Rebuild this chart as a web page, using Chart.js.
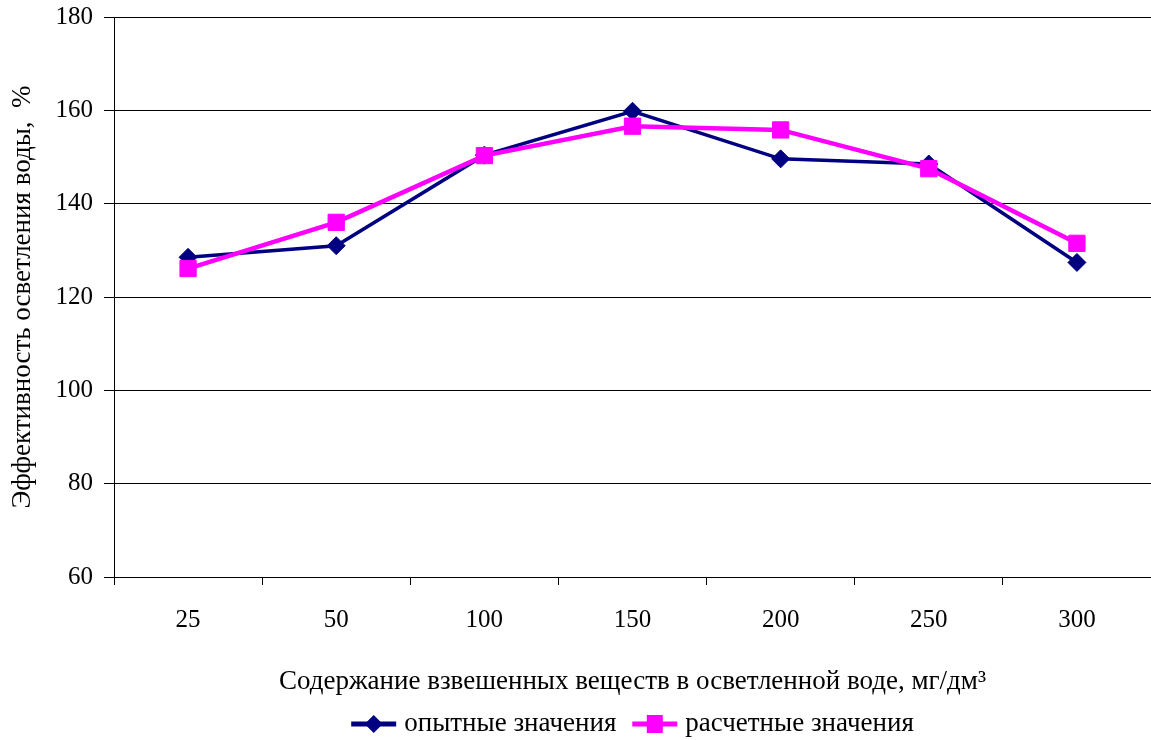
<!DOCTYPE html>
<html>
<head>
<meta charset="utf-8">
<script src="https://cdn.jsdelivr.net/npm/chart.js@4"></script>
<style>
  html, body { margin: 0; padding: 0; background: #fff; }
  #wrap { width: 1151px; height: 740px; }
</style>
</head>
<body>
<div id="wrap"><canvas id="chart" width="1151" height="740"></canvas></div>
<script>
const categories = ["25", "50", "100", "150", "200", "250", "300"];
const measured = [128.5, 131.0, 150.4, 159.8, 149.6, 148.5, 127.4];
const calculated = [126.1, 136.0, 150.3, 156.6, 155.8, 147.5, 131.5];
const yTicks = [60, 80, 100, 120, 140, 160, 180];

const FONT = "'Liberation Serif', 'Times New Roman', serif";
const NAVY = "#000080";
const MAGENTA = "#FF00FF";

// Excel-style legend: short line with marker, then label
const lineLegend = {
  id: "lineLegend",
  afterDraw(chart) {
    const ctx = chart.ctx;
    const iconW = 45, textGap = 8, itemGap = 16, y = 724;
    ctx.save();
    ctx.font = "27px " + FONT;
    ctx.textBaseline = "middle";
    const items = chart.data.datasets.map(ds => ({ ds, w: ctx.measureText(ds.label).width }));
    const total = items.reduce((s, it) => s + iconW + textGap + it.w, 0) + itemGap * (items.length - 1);
    let x = (chart.chartArea.left + chart.chartArea.right) / 2 - total / 2;
    items.forEach(({ ds, w }) => {
      ctx.strokeStyle = ds.borderColor;
      ctx.fillStyle = ds.borderColor;
      ctx.lineWidth = 5;
      ctx.beginPath(); ctx.moveTo(x, y); ctx.lineTo(x + iconW, y); ctx.stroke();
      const cx = x + iconW / 2;
      ctx.beginPath();
      if (ds.pointStyle === "rectRot") {
        ctx.moveTo(cx, y - 9); ctx.lineTo(cx + 9, y); ctx.lineTo(cx, y + 9); ctx.lineTo(cx - 9, y);
      } else {
        ctx.rect(cx - 8, y - 9, 16, 18);
      }
      ctx.fill();
      ctx.fillStyle = "#000";
      ctx.fillText(ds.label, x + iconW + textGap, y);
      x += iconW + textGap + w + itemGap;
    });
    ctx.restore();
  }
};

new Chart(document.getElementById("chart"), {
  type: "line",
  data: {
    labels: categories,
    datasets: [{
      label: "опытные значения",
      data: measured,
      borderColor: NAVY,
      backgroundColor: NAVY,
      borderWidth: 3.5,
      pointStyle: "rectRot",
      pointRadius: 9,
      pointBorderWidth: 1,
      tension: 0,
      order: 1
    }, {
      label: "расчетные значения",
      data: calculated,
      borderColor: MAGENTA,
      backgroundColor: MAGENTA,
      borderWidth: 4.5,
      pointStyle: "rect",
      pointRadius: 11.5,
      pointBorderWidth: 1,
      tension: 0,
      order: 0
    }]
  },
  options: {
    responsive: false,
    animation: false,
    layout: { autoPadding: false, padding: { top: 17, right: 0, bottom: 42, left: 0 } },
    plugins: {
      tooltip: { enabled: false },
      legend: { display: false }
    },
    scales: {
      x: {
        offset: true,
        afterFit: s => { s.height = 121; s.paddingLeft = 0; s.paddingRight = 0; },
        grid: {
          offset: true,
          drawOnChartArea: false,
          drawTicks: true,
          tickLength: 8,
          color: "#000"
        },
        border: { color: "#000", width: 1 },
        ticks: {
          color: "#000",
          padding: 20,
          maxRotation: 0,
          font: { family: FONT, size: 25 }
        },
        title: {
          display: true,
          text: "Содержание взвешенных веществ в осветленной воде, мг/дм³",
          color: "#000",
          padding: { top: 0, bottom: 0 },
          font: { family: FONT, size: 27 }
        }
      },
      y: {
        min: 60,
        max: 180,
        afterFit: s => { s.width = 114; s.paddingTop = 0; s.paddingBottom = 0; },
        afterBuildTicks: s => { s.ticks = yTicks.map(v => ({ value: v })); },
        grid: {
          color: "#000",
          lineWidth: 1,
          tickLength: 10
        },
        border: { color: "#000", width: 1 },
        ticks: {
          color: "#000",
          padding: 11,
          font: { family: FONT, size: 25 }
        },
        title: {
          display: true,
          text: "Эффективность осветления воды,  %",
          color: "#000",
          padding: { top: 7, bottom: 0 },
          font: { family: FONT, size: 27 }
        }
      }
    }
  },
  plugins: [lineLegend]
});
</script>
</body>
</html>
